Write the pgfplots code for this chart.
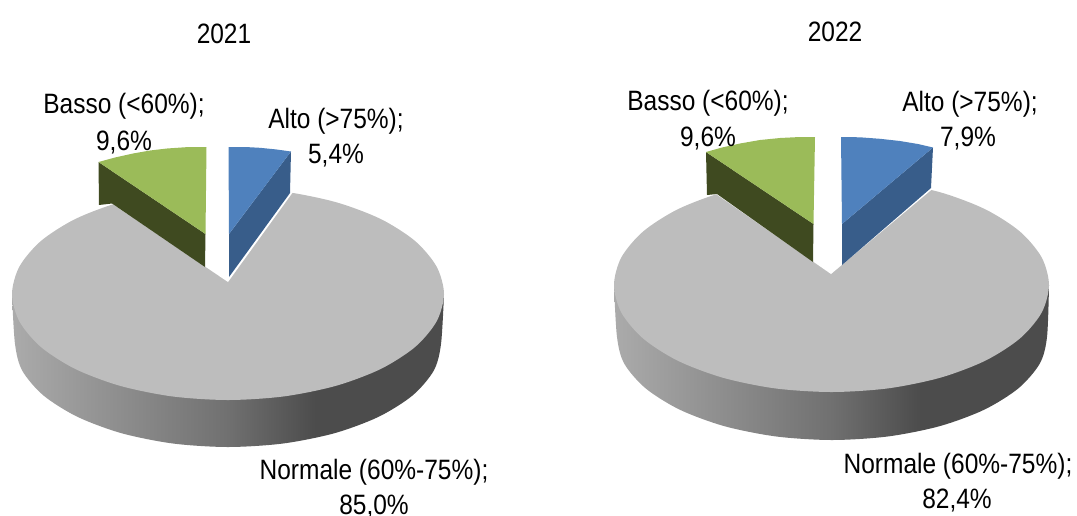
\documentclass[border=0pt]{standalone}
\usepackage{fontspec}
\setmainfont{Liberation Sans}
\usepackage{pgfplots}
\pgfplotsset{compat=1.18}

\definecolor{topgray}{HTML}{BDBDBD}
\definecolor{bluetop}{HTML}{4F81BD}
\definecolor{blueside}{HTML}{385D8A}
\definecolor{greentop}{HTML}{9BBB59}
\definecolor{greenside}{HTML}{3F4A20}

% Rim of the large slice: light on the left, dark from just right of the middle
\pgfdeclarehorizontalshading{rimgray}{100bp}{
  color(0bp)=(black!33); color(25bp)=(black!33); color(50bp)=(black!56);
  color(60bp)=(black!70); color(100bp)=(black!70)}

% Labels are set in a slightly condensed sans and placed by their baseline
\tikzset{lbl/.style={font=\fontsize{28}{30}\selectfont, inner sep=0pt, anchor=base, text=black}}
\newcommand{\cond}[1]{\scalebox{0.875}[1]{#1}}

\begin{document}
\begin{tikzpicture}
\useasboundingbox (0,0) rectangle (1077pt,515pt);
\begin{axis}[
  at={(0,0)}, anchor=south west,
  scale only axis, width=1077pt, height=515pt,
  xmin=0, xmax=1077, ymin=0, ymax=515, y dir=reverse,
  hide axis, clip=true,
  every axis plot/.append style={line width=0pt, mark=none},
]
% ---- 2021 ----
\addplot[draw=none, shading=rimgray, smooth] coordinates {
  (444,294)(441,344)(433.7,370.7)(412.5,395.5)(378.6,416.8)(334.5,433.2)(283.1,443.5)
  (228,447)(172.9,443.5)(121.5,433.2)(77.4,416.8)(43.5,395.5)(22.3,370.7)(15,344)(12,294)} --cycle;
\addplot[draw=none, fill=topgray, smooth] coordinates {
  (228,188)(283.9,191.6)(336,202.2)(380.7,219)(415.1,241)(436.6,266.6)(444,294)
  (436.6,321.4)(415.1,347)(380.7,369)(336,385.8)(283.9,396.4)(228,400)(172.1,396.4)
  (120,385.8)(75.3,369)(40.9,347)(19.4,321.4)(12,294)(19.4,266.6)(40.9,241)(75.3,219)
  (120,202.2)(172.1,191.6)(228,188)};
% gap left by the two pulled-out slices
\addplot[draw=none, fill=white] coordinates {(228,282)(293,192)(293,180)(112,180)(112,203.5)} --cycle;
% Alto
\addplot[draw=none, fill=blueside] coordinates {(291,151.5)(229,234)(229,277)(290,193)} --cycle;
\addplot[draw=none, fill=bluetop] coordinates {(228.5,147)(245,147)(260,147.8)(276,149.4)(291,151.5)(229,234)} --cycle;
% Basso
\addplot[draw=none, fill=greenside] coordinates {(98.5,162)(205.5,234)(205,267)(112,203.5)(99,205)} --cycle;
\addplot[draw=none, fill=greentop] coordinates {(98.5,162)(115,157.5)(133,153.5)(150,150.5)(167,148.5)(186,147.2)(206.5,147)(205.5,234)} --cycle;

% ---- 2022 ----
\addplot[draw=none, shading=rimgray, smooth] coordinates {
  (1049,285)(1047,337)(1039.7,363.7)(1018.2,388.5)(984,409.8)(939.5,426.2)(887.6,436.5)
  (832,440)(776.4,436.5)(724.5,426.2)(680,409.8)(645.8,388.5)(624.3,363.7)(617,337)(614,285)} --cycle;
\addplot[draw=none, fill=topgray, smooth] coordinates {
  (831.5,178)(887.8,181.6)(940.3,192.3)(985.3,209.3)(1019.9,231.5)(1041.6,257.3)(1049,285)
  (1041.6,312.7)(1019.9,338.5)(985.3,360.7)(940.3,377.7)(887.8,388.4)(831.5,392)(775.2,388.4)
  (722.8,377.7)(677.7,360.7)(643.1,338.5)(621.4,312.7)(614,285)(621.4,257.3)(643.1,231.5)
  (677.7,209.3)(722.8,192.3)(775.2,181.6)(831.5,178)};
\addplot[draw=none, fill=white] coordinates {(831,274)(933,188.5)(933,170)(716,170)(716,194)} --cycle;
% Alto
\addplot[draw=none, fill=blueside] coordinates {(933,147.5)(842,224)(842,265)(931,188)} --cycle;
\addplot[draw=none, fill=bluetop] coordinates {(841,137)(860,137.3)(880,138.8)(900,141)(918,144)(933,147.5)(842,224)} --cycle;
% Basso
\addplot[draw=none, fill=greenside] coordinates {(706,152)(813.5,224)(813,262)(717,194)(707,195)} --cycle;
\addplot[draw=none, fill=greentop] coordinates {(706,152)(722,147.5)(740,143.5)(760,140)(780,138)(800,137)(815,137)(813.5,224)} --cycle;

% ---- titles and slice labels ----
\node[lbl] at (axis cs:224,43) {\cond{2021}};
\node[lbl] at (axis cs:124,113.5) {\cond{Basso (<60\%);}};
\node[lbl] at (axis cs:124,150) {\cond{9,6\%}};
\node[lbl] at (axis cs:336,128) {\cond{Alto (>75\%);}};
\node[lbl] at (axis cs:336,163.5) {\cond{5,4\%}};
\node[lbl] at (axis cs:374,479) {\cond{Normale (60\%-75\%);}};
\node[lbl] at (axis cs:374,514) {\cond{85,0\%}};

\node[lbl] at (axis cs:835,41) {\cond{2022}};
\node[lbl] at (axis cs:708,110) {\cond{Basso (<60\%);}};
\node[lbl] at (axis cs:708,146) {\cond{9,6\%}};
\node[lbl] at (axis cs:970,111) {\cond{Alto (>75\%);}};
\node[lbl] at (axis cs:968,146) {\cond{7,9\%}};
\node[lbl] at (axis cs:958,473) {\cond{Normale (60\%-75\%);}};
\node[lbl] at (axis cs:957,508) {\cond{82,4\%}};
\end{axis}
\end{tikzpicture}
\end{document}
